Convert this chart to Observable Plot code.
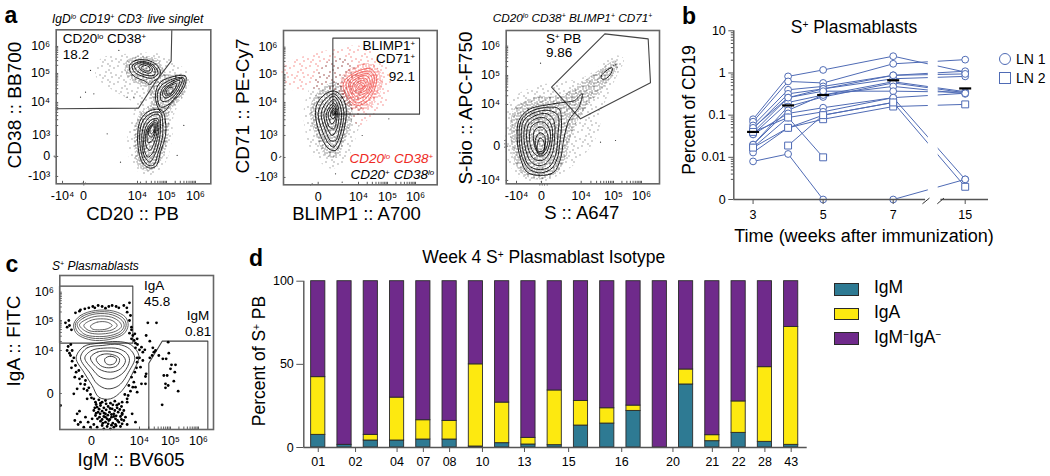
<!DOCTYPE html>
<html><head><meta charset="utf-8">
<script src="https://cdn.jsdelivr.net/npm/d3@7"></script>
<script src="https://cdn.jsdelivr.net/npm/@observablehq/plot@0.6"></script>
<style>
html,body{margin:0;padding:0;background:#fff;overflow:hidden}
#page{position:relative;width:1050px;height:476px;font-family:"Liberation Sans",Arial,sans-serif;color:#000}
.t{position:absolute;white-space:nowrap;line-height:1}
.t sup{font-size:.58em;line-height:0;vertical-align:baseline;position:relative;top:-.5em}
.sw{position:absolute;box-sizing:border-box}
</style></head><body><div id="page"></div>
<script>
// ---------- panel d ----------
const barIndex=[0,1,2,3,4,5,6,7,8,9,10,11,12,13,14,15,16,17,18];
const igM=[7.6,1.6,4.2,4.2,4.8,4.8,.6,2.6,1.8,1.4,13.2,14.4,22,0,37.9,3.8,8.8,3.4,1.6];
const igA=[34.7,0,3.4,25.8,11.6,11.2,49.4,24.4,4,32.9,14.8,9.2,3.2,0,9,3.6,18.9,44.9,70.9];
const donorLabels=["01","02","04","07","08","10","13","15","16","20","21","22","28","43"];
const donorTickAt=[0,1.42,3,4,5,6.25,7.85,9.53,11.55,13.5,15,16,17,18];
const isotypes=["IgM","IgA","IgM⁻IgA⁻"];
const isotypeColors=["#2e7a93","#fde910","#6f2a8b"];
// ---------- panel b ----------
const weeks=[3,4,5,7,15];
const zeroAt=0.001;
const lnSeries=[
 ["LN 1",[.08,.83,1.18,2.5,1.05]],
 ["LN 1",[.07,.63,.58,1.65,2.07]],
 ["LN 1",[.057,.4,.48,.88,1.1]],
 ["LN 1",[.048,.32,.42,.73,.83]],
 ["LN 1",[.039,.26,.42,.88,.95]],
 ["LN 1",[.035,.2,.3,.62,.36]],
 ["LN 1",[.02,.16,.27,.58,.34]],
 ["LN 1",[.02,.13,.3,.48,.32]],
 ["LN 1",[.05,.26,.37,.37,.35]],
 ["LN 1",[.035,.11,.15,.26,.33]],
 ["LN 1",[.017,.088,.12,.26,.003]],
 ["LN 1",[.013,.05,.1,.2,null]],
 ["LN 1",[.008,.012,0,0,.003]],
 ["LN 2",[.017,.05,.08,.16,.18]],
 ["LN 2",[null,.019,.1,.2,.002]],
 ["LN 2",[.04,.088,.01,null,null]]
];
const medians=[.04,.17,.3,.67,.43];
const lnTicks=[.001,.01,.1,1,10];
const lnTickLabels=["0","0.01","0.1","1","10"];
const lnMinor=[.003,.004,.005,.006,.007,.008,.009,.02,.03,.04,.05,.06,.07,.08,.09,.2,.3,.4,.5,.6,.7,.8,.9,2,3,4,5,6,7,8,9];
const weekTicks=[3,5,7,15];
// ---------- flow panels: [channel x, channel y counted from the top] ----------
const a1Gate=[[364,13],[362,107],[318,165],[264,248],[17,250]];
const a1Sparse=[[150,100],[230,85],[330,85],[375,110],[420,150],[405,200],[370,270],[365,340],[340,420],[290,450],[245,420],[230,340],[250,260],[250,235],[180,190],[135,150]];
const a1Dense=[[225,110],[260,92],[320,100],[350,145],[395,145],[410,160],[395,215],[360,255],[355,320],[335,400],[300,435],[265,425],[252,370],[252,310],[268,265],[300,235],[290,190],[235,160]];
const a1Loose=[[90,215],[105,200],[170,325],[210,410],[380,390],[120,135],[205,75],[270,470],[230,215],[400,300],[130,205],[250,215],[95,473],[100,478],[105,473],[11,392],[14,395]];
const a1Contours=[
[[237,120],[255,105],[290,104],[318,118],[330,140],[325,155],[305,170],[298,178],[285,168],[255,155],[240,140]],
[[245,122],[262,110],[290,110],[315,125],[322,145],[305,158],[275,152],[252,140]],
[[252,122],[270,112],[293,114],[312,130],[312,148],[290,150],[262,138]],
[[265,124],[280,115],[298,120],[306,133],[298,143],[278,138]],
[[272,126],[285,120],[298,127],[298,135],[285,136]],
[[330,170],[375,152],[405,152],[405,175],[385,210],[360,235],[345,255],[332,260],[320,240],[315,205]],
[[335,178],[375,158],[400,158],[398,178],[375,215],[350,240],[330,245],[322,225],[322,200]],
[[335,190],[370,165],[395,160],[390,180],[370,212],[345,228],[332,225]],
[[340,192],[368,172],[388,165],[382,185],[365,208],[345,218],[337,210]],
[[345,192],[365,178],[378,175],[372,192],[358,208],[345,210]],
[[350,192],[362,185],[368,190],[362,202],[350,206]],
[[335,255],[345,290],[345,330],[330,380],[318,420],[300,428],[278,415],[265,380],[262,320],[272,280],[300,255]],
[[330,262],[337,300],[335,340],[322,385],[310,418],[295,420],[280,405],[270,370],[268,320],[278,285],[305,262]],
[[325,268],[330,305],[325,350],[312,390],[298,410],[283,395],[275,360],[275,320],[285,290],[305,270]],
[[322,280],[325,310],[318,350],[305,385],[292,395],[282,375],[280,335],[288,300],[305,282]],
[[318,285],[320,315],[312,350],[298,375],[288,365],[285,330],[292,305],[305,290]],
[[315,290],[315,320],[305,345],[293,352],[290,325],[297,305]],
[[312,295],[312,320],[303,335],[295,330],[296,310]],
[[309,298],[310,318],[302,325],[298,315]]
];
const a2Gate=[[172,38],[432,38],[432,266],[172,266],[172,38]];
const a2RedSparse=[[20,125],[90,90],[180,70],[250,60],[320,100],[345,150],[335,230],[290,270],[250,300],[200,225],[180,200],[120,190],[40,190]];
const a2RedDense=[[195,160],[240,120],[290,115],[320,150],[315,200],[285,245],[240,255],[205,225]];
const a2BlackSparse=[[85,250],[110,170],[170,100],[230,110],[260,250],[240,340],[215,400],[170,430],[115,390],[90,320]];
const a2BlackDense=[[110,225],[150,180],[185,170],[225,230],[230,280],[205,350],[185,395],[150,390],[125,340],[105,280]];
const a2Loose=[[105,478],[110,475],[13,396],[16,393],[200,470],[340,280],[260,330],[180,445]];
const a2BlackContours=[
[[178,197],[200,215],[212,250],[208,300],[195,350],[180,375],[160,370],[135,330],[120,270],[125,235],[150,205]],
[[175,205],[195,225],[205,260],[200,305],[188,345],[175,365],[160,355],[142,320],[128,268],[135,240],[155,215]],
[[175,212],[192,235],[198,270],[192,310],[180,345],[165,345],[150,315],[137,270],[143,245],[160,222]],
[[175,222],[188,245],[190,280],[182,315],[170,330],[156,310],[145,270],[153,245]],
[[175,232],[185,252],[183,285],[175,310],[162,305],[152,270],[160,248]],
[[175,240],[182,258],[178,285],[168,295],[158,268],[165,250]],
[[175,248],[180,262],[174,280],[165,272],[168,256]],
[[174,254],[178,264],[172,270],[169,262]]
];
const a2RedContours=[
[[205,170],[240,140],[285,130],[302,150],[298,190],[275,228],[245,240],[222,225],[205,195]],
[[212,172],[245,145],[285,138],[296,155],[290,190],[268,222],[243,232],[225,215]],
[[220,172],[248,150],[280,145],[290,160],[284,192],[262,215],[242,222],[228,205]],
[[225,175],[250,155],[275,152],[284,168],[278,195],[258,208],[240,212],[230,198]],
[[232,178],[252,160],[272,160],[278,175],[270,195],[252,202],[238,200]],
[[238,180],[255,166],[268,168],[272,180],[262,194],[246,196]],
[[243,182],[256,172],[266,176],[266,186],[255,192],[246,190]],
[[250,182],[258,178],[264,183],[258,189],[250,187]]
];
const a3Gate=[[153,185],[313,25],[443,40],[450,172],[240,280],[153,185]];
const a3Sparse=[[30,225],[110,180],[180,170],[260,150],[340,90],[370,100],[345,160],[310,240],[290,330],[240,400],[190,440],[120,470],[60,460],[20,400],[15,310]];
const a3Dense=[[40,250],[100,215],[180,210],[240,175],[300,130],[345,105],[352,125],[300,195],[250,255],[215,320],[195,400],[160,450],[110,462],[60,440],[35,380]];
const a3Loose=[[120,113],[200,90],[345,345],[300,350],[118,478],[125,478],[132,478],[140,478],[13,345],[13,355],[13,365],[340,120],[345,118],[350,125]];
const a3Contours=[
[[55,285],[85,252],[140,238],[195,230],[222,225],[245,205],[235,245],[222,262],[205,285],[190,340],[180,400],[160,440],[120,450],[80,440],[60,400],[50,340]],
[[62,285],[90,258],[145,245],[175,250],[183,290],[178,350],[170,400],[150,432],[115,442],[85,430],[65,395],[56,340]],
[[70,285],[100,262],[145,255],[172,270],[172,330],[165,390],[145,425],[112,432],[85,420],[70,385],[62,330]],
[[78,290],[105,270],[140,265],[160,285],[162,340],[155,385],[135,415],[110,420],[88,405],[75,370],[70,325]],
[[85,295],[110,278],[135,278],[153,300],[155,345],[145,385],[125,405],[100,400],[85,375],[78,330]],
[[92,305],[112,290],[133,292],[148,315],[148,350],[135,385],[115,392],[98,380],[87,345]],
[[100,320],[115,305],[130,308],[142,330],[140,360],[128,382],[113,382],[102,360]],
[[105,340],[118,322],[130,328],[135,350],[128,375],[115,378],[106,362]],
[[110,360],[118,338],[128,345],[132,368],[124,388],[112,385]],
[[302,152],[318,135],[335,127],[332,143],[315,160],[304,160]]
];
const cGates=[[[12,47],[232,47],[232,218],[12,218],[12,47]],[[280,475],[280,278],[320,212],[457,212],[457,475]]];
const cDots=[[72,122],[60,127],[100,112],[112,108],[128,105],[140,108],[150,113],[170,105],[190,112],[205,105],[222,97],[215,125],[225,135],[40,150],[30,157],[42,165],[48,178],[35,170],[222,150],[228,170],[222,188],[238,190],[228,205],[245,205],[240,218],[258,230],[262,245],[268,238],
[38,228],[35,240],[50,240],[45,255],[55,262],[50,272],[60,285],[70,300],[58,320],[80,318],[90,330],[75,340],[65,355],[85,355],[95,360],[105,372],[115,385],[55,370],[15,405],[95,385],
[252,262],[262,270],[245,275],[255,290],[238,305],[228,320],[235,335],[220,345],[225,362],[208,372],[215,385],[200,395],[240,350],[258,340],
[277,157],[303,157],[272,195],[283,212],[292,232],[295,245],[283,262],[290,255],[300,240],[310,255],[322,265],[332,265],[340,248],[338,215],[348,283],[360,283],[345,295],[325,315],[335,315],[358,305],[355,332],[330,340],[338,345],[330,352],[368,362],[320,403],[272,310],[270,340],[270,318],[245,365],
[120,395],[130,388],[140,395],[150,390],[165,398],[178,392],[190,400],[125,410],[135,405],[145,412],[158,408],[170,415],[185,412],[198,408],[115,420],[128,425],[140,422],[150,430],[162,425],[175,430],[188,425],[205,420],[120,435],[132,440],[145,438],[155,445],[168,440],[180,445],[195,438],[210,440],[135,452],[150,455],[160,450],[172,458],[190,455],[205,450],[215,462],[140,465],[155,468],[175,470],[195,468],[65,430],[72,422],[58,450],[68,462],[75,455],[90,440],[98,455],[105,470],[115,462],[85,470],[230,430],[240,455],[110,445],[125,470],[145,475],[165,475],[180,462],[200,428],[215,395],
[122,402],[135,398],[152,400],[172,403],[184,404],[118,412],[131,416],[152,418],[164,414],[178,420],[193,417],[122,428],[134,430],[146,428],[157,434],[168,432],[182,436],[200,432],[126,445],[140,447],[150,440],[163,447],[175,438],[186,450],[198,447],[142,458],[158,460],[168,464],[182,466],[200,460],
[228,178],[232,195],[236,210],[246,222],[252,238],[240,232],[75,118],[88,115],[118,112],[160,108],[182,108],[214,112],[46,222],[42,248],[48,292],[62,305],[72,325],[88,342],[100,352],[108,382],[245,262],[243,292],[232,350],[218,375]];
const cContours=[
[[55,160],[75,135],[120,120],[175,122],[210,140],[218,165],[205,190],[170,205],[120,210],[80,200],[60,185]],
[[60,160],[80,138],[120,125],[172,127],[205,145],[212,165],[200,187],[168,200],[120,204],[82,195],[65,182]],
[[65,162],[85,142],[122,130],[170,133],[200,150],[206,166],[195,183],[165,195],[120,198],[85,190]],
[[72,163],[92,147],[125,137],[168,140],[193,155],[198,168],[185,180],[160,188],[118,190],[90,182]],
[[85,165],[105,150],[135,145],[170,150],[185,165],[170,178],[135,183],[100,180]],
[[105,167],[125,155],[155,155],[170,165],[155,175],[125,178],[110,175]],
[[62,262],[85,228],[130,218],[185,213],[225,222],[250,255],[235,300],[200,360],[165,385],[130,380],[110,345],[85,305]],
[[75,262],[95,232],[140,225],[190,222],[222,235],[238,262],[222,300],[190,345],[155,355],[125,340],[105,310]],
[[88,262],[108,240],[145,233],[190,235],[215,250],[222,270],[205,305],[170,325],[135,320],[110,295]],
[[105,262],[125,245],[160,242],[195,250],[210,270],[195,295],[165,305],[130,295]],
[[122,265],[140,252],[170,252],[192,265],[185,285],[160,292],[135,285]],
[[148,265],[165,257],[183,265],[178,278],[162,283],[150,277]]
];
const sparseTile=[[1,3],[6,13],[9,7],[13,1],[15,12],[3,10],[11,15],[12,5],[5,1],[14,8],[8,11]];
const denseTile=[[0,2],[2,8],[3,4],[5,0],[5,9],[7,6],[8,2],[9,8],[1,5],[6,3],[10,0],[4,7],[8,4],[3,1],[10,5],[7,9],[0,8],[2,2],[5,5],[10,9]];

const page=document.getElementById("page");
const FONT='"Liberation Sans",Arial,sans-serif';

// stipple textures for the scatter clouds
function tile(id,w,h,pts,color){return `<pattern id="${id}" width="${w}" height="${h}" patternUnits="userSpaceOnUse">`+pts.map(p=>`<rect x="${p[0]}" y="${p[1]}" width="1" height="1" fill="${color}"/>`).join("")+`</pattern>`;}
page.insertAdjacentHTML("beforeend",`<svg width="0" height="0" style="position:absolute"><defs>${tile("ks",16,16,sparseTile,"#555")}${tile("kd",11,11,denseTile,"#2a2a2a")}${tile("rs",16,16,sparseTile,"#ee2f2a")}${tile("rd",11,11,denseTile,"#ee2f2a")}</defs></svg>`);

function panel(box,x,y,marks){
  const svg=Plot.plot({width:1050,height:476,marginLeft:box.l,marginRight:1050-box.r,marginTop:box.t,marginBottom:476-box.b,
    x:{axis:null,label:null,...x},y:{axis:null,label:null,...y},marks,
    style:{position:"absolute",left:"0",top:"0",background:"transparent",overflow:"visible",fontFamily:FONT,fontSize:"12.5px",color:"#000"}});
  page.appendChild(svg);
}
const X=d=>d[0],Y=d=>d[1];
const loop=(pts,o)=>Plot.line(pts,{x:X,y:Y,curve:"catmull-rom-closed",stroke:"#000",strokeWidth:.85,...o});
const cloud=(pts,fill)=>Plot.line(pts,{x:X,y:Y,curve:"catmull-rom-closed",stroke:"none",fill});
const gate=pts=>Plot.line(pts,{x:X,y:Y,stroke:"#444",strokeWidth:1.1});
function minor(major){const out=[];for(let i=0;i+1<major.length;i++){const a=major[i],b=major[i+1];
  for(const m of [2,3,4,5,6,7,8,9])out.push(a+(b-a)*Math.log10(m));}return out;}
function flowAxes(xT,xL,yT,yL,xLog,yLog){
  const mx=new Map(xT.map((v,i)=>[v,xL[i]])),my=new Map(yT.map((v,i)=>[v,yL[i]]));
  return [
    Plot.axisX([...xT],{anchor:"bottom",tickSize:0,tickPadding:7,tickFormat:v=>mx.get(v),fontSize:12.5,fill:"#000"}),
    Plot.axisY([...yT],{anchor:"left",tickSize:0,tickPadding:6,tickFormat:v=>my.get(v),fontSize:12.5,fill:"#000"}),
    Plot.axisX([...xT,...minor(xLog)],{anchor:"bottom",tickSize:2.5,text:null,stroke:"#333",strokeWidth:.8,dy:-2.5}),
    Plot.axisY([...yT,...minor(yLog)],{anchor:"left",tickSize:2.5,text:null,stroke:"#333",strokeWidth:.8,dx:2.5}),
    Plot.frame({stroke:"#666",strokeWidth:1.6})
  ];
}
const sm=(pts,r=.6,fill="#333")=>Plot.dot(pts,{x:X,y:Y,r,fill,stroke:"none"});

// a1
panel({l:55.7,r:210.3,t:29.3,b:183.3},{domain:[17,481]},{domain:[13,475],reverse:true},[
  cloud(a1Sparse,"url(#ks)"),cloud(a1Dense,"url(#kd)"),sm(a1Loose),
  ...a1Contours.map(c=>loop(c)),gate(a1Gate),
  ...flowAxes([36,99,261,348,435],["-10⁴","0","10⁴","10⁵","10⁶"],[63,144,231,330,393,453],["10⁶","10⁵","10⁴","10³","0","-10³"],[261,348,435],[330,231,144,63])
]);
// a2
panel({l:283,r:436.7,t:30,b:184.3},{domain:[24,485]},{domain:[15,478],reverse:true},[
  cloud(a2RedSparse,"url(#rs)"),cloud(a2BlackSparse,"url(#ks)"),cloud(a2RedDense,"url(#rd)"),cloud(a2BlackDense,"url(#kd)"),sm(a2Loose),
  gate(a2Gate),...a2BlackContours.map(c=>loop(c)),...a2RedContours.map(c=>loop(c,{stroke:"#f0504c",strokeWidth:.8})),
  ...flowAxes([128,249,336,420],["0","10⁴","10⁵","10⁶"],[65,147,231,330,396,456],["10⁶","10⁵","10⁴","10³","0","-10³"],[249,336,420],[330,231,147,65])
]);
// a3
panel({l:505.7,r:659,t:30,b:183.3},{domain:[17,477]},{domain:[15,475],reverse:true},[
  cloud(a3Sparse,"url(#ks)"),cloud(a3Dense,"url(#kd)"),sm(a3Loose),
  gate(a3Gate),...a3Contours.map(c=>loop(c)),
  ...flowAxes([48,123,242,339,423],["-10⁴","0","10⁴","10⁵","10⁶"],[62,150,237,362,465],["10⁶","10⁵","10⁴","0","-10⁴"],[242,339,423],[237,150,62])
]);
// c
panel({l:59.3,r:213,t:275,b:429},{domain:[13,474]},{domain:[15,477],reverse:true},[
  ...cGates.map(gate),sm(cDots,1.4,"#000"),
  ...cContours.map((c,i)=>loop(c,{stroke:i<6?"#444":"#222"})),
  ...flowAxes([108,252,345,429],["0","10⁴","10⁵","10⁶"],[65,150,240,369],["10⁶","10⁵","10⁴","0"],[252,345,429],[240,150,65])
]);

// b
const lnRows=lnSeries.flatMap(([group,vals],s)=>vals.map((v,i)=>v==null?null:{s,group,week:weeks[i],value:v===0?zeroAt:v}).filter(Boolean));
const W=[2.45,7,15,17.6];
panel({l:733.3,r:988,t:30.3,b:199},{type:"linear",domain:W,range:[733.3,892.7,964.7,988]},{type:"log",domain:[zeroAt,10]},[
  Plot.line(lnRows,{x:"week",y:"value",z:"s",stroke:"#4f6bb5",strokeWidth:1}),
  Plot.rect([0],{x1:10.9,x2:12,y1:zeroAt*.8,y2:11,fill:"#fff"}),
  Plot.dot(lnRows.filter(d=>d.group==="LN 1"),{x:"week",y:"value",r:3.4,symbol:"circle",fill:"#fff",stroke:"#4f6bb5",strokeWidth:1}),
  Plot.dot(lnRows.filter(d=>d.group==="LN 2"),{x:"week",y:"value",r:3.9,symbol:"square",fill:"#fff",stroke:"#4f6bb5",strokeWidth:1}),
  Plot.dot(weeks.map((w,i)=>({w,m:medians[i]})),{x:"w",y:"m",fill:"#000",stroke:"none",r:6,symbol:{draw(c){c.rect(-6,-1.1,12,2.2);}}}),
  Plot.ruleY([zeroAt],{x1:W[0],x2:10.6,stroke:"#555",strokeWidth:1.4}),
  Plot.ruleY([zeroAt],{x1:12.3,x2:W[3],stroke:"#555",strokeWidth:1.4}),
  Plot.ruleX([W[0]],{y1:zeroAt,y2:10,stroke:"#555",strokeWidth:1.4}),
  Plot.link([[10.25,11.03],[11.9,12.64]],{x1:d=>d[0],x2:d=>d[1],y1:.00079,y2:.00108,stroke:"#333",strokeWidth:1}),
  Plot.axisX(weekTicks,{anchor:"bottom",tickSize:5,tickPadding:6,tickFormat:d=>String(d),stroke:"#555",fill:"#000",fontSize:12.5}),
  Plot.axisY(lnTicks,{anchor:"left",tickSize:5,tickPadding:3,tickFormat:(d)=>lnTickLabels[lnTicks.indexOf(d)],stroke:"#555",fill:"#000",fontSize:12.5}),
  Plot.axisY(lnMinor,{anchor:"left",tickSize:2.5,text:null,stroke:"#555"})
]);

// d
const stacks=barIndex.flatMap(i=>{const m=igM[i],a=igA[i];return [
  {i,iso:isotypes[0],y1:0,y2:m},{i,iso:isotypes[1],y1:m,y2:m+a},{i,iso:isotypes[2],y1:m+a,y2:100}];});
panel({l:303.3,r:806.7,t:280.7,b:447},{domain:[-.55,18.61]},{domain:[0,100]},[
  Plot.rect(stacks,{x1:d=>d.i-.27,x2:d=>d.i+.27,y1:"y1",y2:"y2",fill:d=>isotypeColors[isotypes.indexOf(d.iso)],stroke:"#2a2a2a",strokeWidth:.9}),
  Plot.ruleY([0],{stroke:"#555",strokeWidth:1.4}),
  Plot.ruleX([-.55],{y1:0,y2:100,stroke:"#555",strokeWidth:1.4}),
  Plot.axisX(donorTickAt,{anchor:"bottom",tickSize:5,tickPadding:5,tickFormat:d=>donorLabels[donorTickAt.indexOf(d)],stroke:"#555",fill:"#000",fontSize:12.5}),
  Plot.axisY([0,50,100],{anchor:"left",tickSize:7,tickPadding:3,stroke:"#555",fill:"#000",fontSize:12.5})
]);

// text
function T(x,y,html,o={}){const d=document.createElement("div");d.className="t";d.innerHTML=html;
  const a=o.anchor||"middle",tx=a==="middle"?"-50%":a==="end"?"-100%":"0";
  d.style.cssText=`left:${x}px;top:${y}px;font-size:${o.size||13}px;color:${o.color||"#000"};${o.italic?"font-style:italic;":""}${o.bold?"font-weight:bold;":""}transform:translate(${tx},-50%)${o.rot?" rotate(-90deg)":""};`;
  page.appendChild(d);}
const L=s=>s.replace(/\^(\S+?)\^/g,"<sup>$1</sup>");
[["a",11,15],["b",689,16],["c",12,264],["d",256,258]].forEach(([s,x,y])=>T(x,y,s,{size:23,bold:true}));
T(52,18.7,L("IgD^lo^ CD19^+^ CD3^-^ live singlet"),{size:12,italic:true,anchor:"start"});
T(492.7,18.7,L("CD20^lo^ CD38^+^ BLIMP1^+^ CD71^+^"),{size:11.8,italic:true,anchor:"start"});
T(52,265.7,L("S^+^ Plasmablasts"),{size:12,italic:true,anchor:"start"});
T(62.7,39.3,L("CD20^lo^ CD38^+^"),{size:13.5,anchor:"start"});T(62.7,55,"18.2",{size:13.5,anchor:"start"});
T(415,46,L("BLIMP1^+^"),{size:13.5,anchor:"end"});T(415,59,L("CD71^+^"),{size:13.5,anchor:"end"});T(415,77.3,"92.1",{size:13.5,anchor:"end"});
T(433,159,L("CD20^lo^ CD38^+^"),{size:13.5,italic:true,anchor:"end",color:"#ee2a24"});T(434,175,L("CD20^+^ CD38^lo^"),{size:13.5,italic:true,anchor:"end"});
T(546,39.3,L("S^+^ PB"),{size:13.5,anchor:"start"});T(546,53,"9.86",{size:13.5,anchor:"start"});
T(144,285.7,"IgA",{size:13.5,anchor:"start"});T(144,301.7,"45.8",{size:13.5,anchor:"start"});
T(186.7,316,"IgM",{size:13.5,anchor:"start"});T(185,332,"0.81",{size:13.5,anchor:"start"});
T(132.5,214,"CD20 :: PB",{size:18.5});T(356.5,214,"BLIMP1 :: A700",{size:18.5});T(581.7,213,"S :: A647",{size:18.5});T(131,460,"IgM :: BV605",{size:18.5});
T(14,105,"CD38 :: BB700",{size:19,rot:true});T(242,105.7,"CD71 :: PE-Cy7",{size:19,rot:true});T(465,108,"S-bio :: APC-F750",{size:19,rot:true});T(13,341,"IgA :: FITC",{size:19,rot:true});
T(854,28,L("S^+^ Plasmablasts"),{size:17.5});T(690,110,"Percent of CD19",{size:17.5,rot:true});T(864,236,"Time (weeks after immunization)",{size:18});
T(1016,59.3,"LN 1",{size:14,anchor:"start"});T(1016,77.7,"LN 2",{size:14,anchor:"start"});
T(543.7,258,L("Week 4 S^+^ Plasmablast Isotype"),{size:17.5});T(260,361,L("Percent of S^+^ PB"),{size:17.5,rot:true});
T(874,288,"IgM",{size:17.5,anchor:"start"});T(874,313,"IgA",{size:17.5,anchor:"start"});T(874,337.7,L("IgM^−^IgA^−^"),{size:17.5,anchor:"start"});
// legend swatches
function sw(x,y,w,h,css){const d=document.createElement("div");d.className="sw";d.style.cssText=`left:${x}px;top:${y}px;width:${w}px;height:${h}px;${css}`;page.appendChild(d);}
sw(999,53,12,12,"border:1.2px solid #4f6bb5;border-radius:50%");
sw(999,71.7,12,12,"border:1.2px solid #4f6bb5");
isotypeColors.forEach((c,i)=>sw(834,[283,307.5,332][i],25,12.5,`background:${c};border:1px solid #2a2a2a`));
</script></body></html>
